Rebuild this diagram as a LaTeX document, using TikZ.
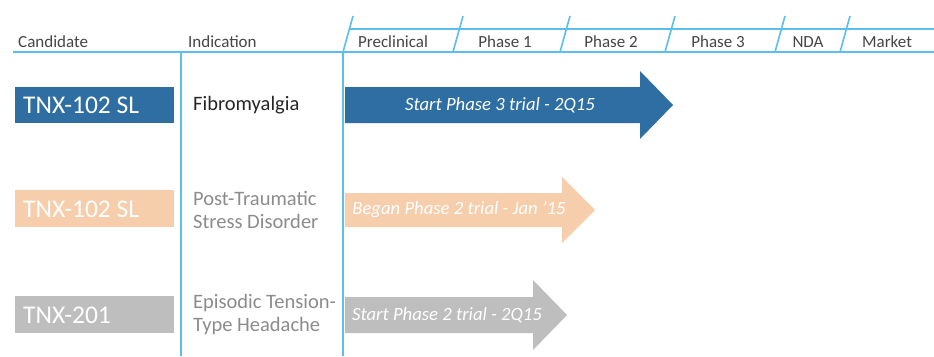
\documentclass[tikz,border=0pt]{standalone}
\usepackage{fontspec}
\setmainfont{Carlito}
\begin{document}
\begin{tikzpicture}[x=1pt,y=-1pt,
  grid/.style={draw=gridblue,line width=2.2pt},
  tick/.style={draw=gridblue,line width=1.6pt},
  hdr/.style={text=hdrgray,font=\fontsize{17}{18}\selectfont,inner sep=0pt},
  cand/.style={text=white,font=\fontsize{25.5}{28}\selectfont,anchor=west,inner sep=0pt},
  ind/.style={font=\fontsize{20.5}{23}\selectfont,anchor=west,align=left,inner sep=0pt},
  arrtext/.style={text=white,font=\itshape\fontsize{18.7}{20}\selectfont,inner sep=0pt}]
\definecolor{gridblue}{RGB}{92,190,234}
\definecolor{dblue}{RGB}{46,110,162}
\definecolor{peach}{RGB}{247,206,172}
\definecolor{lgray}{RGB}{190,190,190}
\definecolor{hdrgray}{RGB}{70,70,70}
\definecolor{indgray}{RGB}{140,140,140}
\useasboundingbox (0,0) rectangle (934,356);
\fill[white] (0,0) rectangle (934,356);

% header rules and column dividers
\draw[grid] (13,52) -- (934,52);
\draw[grid] (349,29) -- (934,29);
\draw[grid] (181,52) -- (181,356);
\draw[grid] (343,52) -- (343,356);
\foreach \b in {343,453,560,665,775,840}
  \draw[tick] (\b,52) -- (\b+10,16);

% header labels
\node[hdr,anchor=west] (hcand) at (18,42) {Candidate};
\node[hdr,anchor=west] (hind) at (188,42) {Indication};
\node[hdr] (hpre) at (393,42) {Preclinical};
\node[hdr] (hp1) at (505,42) {Phase 1};
\node[hdr] (hp2) at (611,42) {Phase 2};
\node[hdr] (hp3) at (718,42) {Phase 3};
\node[hdr] (hnda) at (808,42) {NDA};
\node[hdr] (hmkt) at (887,42) {Market};

% candidate boxes
\fill[dblue] (15,87) rectangle (174,123);
\node[cand] (c1) at (23,105) {TNX-102 SL};
\fill[peach] (15,190) rectangle (174,227);
\node[cand] (c2) at (23,209) {TNX-102 SL};
\fill[lgray] (15,296) rectangle (174,333);
\node[cand] (c3) at (23,315) {TNX-201};

% indications
\node[ind,text=black!85] (i1) at (193,105) {Fibromyalgia};
\node[ind,text=indgray] (i2) at (193,210) {Post-Traumatic\\Stress Disorder};
\node[ind,text=indgray] (i3) at (193,315) {Episodic Tension-\\Type Headache};

% progress arrows
\fill[dblue] (345,87) -- (640,87) -- (640,71) -- (673,105) -- (640,139) -- (640,123) -- (345,123) -- cycle;
\node[arrtext] (a1) at (500,105) {Start Phase 3 trial - 2Q15};
\fill[peach] (345,193) -- (562,193) -- (562,177) -- (595,210) -- (562,243) -- (562,227) -- (345,227) -- cycle;
\node[arrtext] (a2) at (459,210) {Began Phase 2 trial - Jan '15};
\fill[lgray] (345,297) -- (533,297) -- (533,280) -- (567,315) -- (533,350) -- (533,333) -- (345,333) -- cycle;
\node[arrtext] (a3) at (447,315) {Start Phase 2 trial - 2Q15};
\end{tikzpicture}
\end{document}
